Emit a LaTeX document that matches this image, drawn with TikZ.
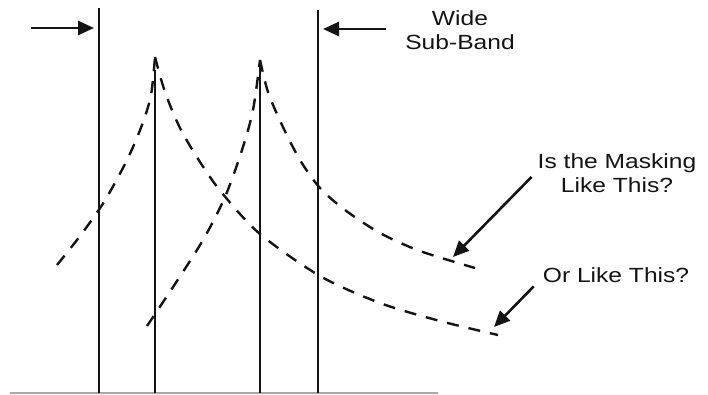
\documentclass[tikz,border=0pt]{standalone}
\usepackage{fontspec}
\usepackage{tikz}
\usetikzlibrary{arrows.meta,positioning}
\newfontfamily\lblfont[FakeStretch=1.2]{Liberation Sans}
\definecolor{Ink}{HTML}{141414}
\definecolor{Rule}{HTML}{A8A8A8}

\begin{document}
\begin{tikzpicture}[x=1pt,y=-1pt,
  band/.style={line width=2.4pt,color=Ink},
  mask/.style={line width=2.4pt,color=Ink,dash pattern=on 12pt off 10pt},
  arr/.style={-{Triangle[length=16pt,width=14pt]},line width=2.6pt,color=Ink},
  lbl/.style={font=\lblfont\fontsize{20.5}{23.4}\selectfont,align=center,inner sep=2pt,color=Ink}]
\useasboundingbox (0,0) rectangle (708,394);
\draw[line width=2pt,color=Rule] (10,393) -- (438,393);
\foreach \name/\x/\top in {edgeL/99/8,toneA/155/70,toneB/260/66,edgeR/318/10} {
  \coordinate (\name) at (\x,\top);
  \draw[band] (\name) -- (\x,393);
}
\draw[mask] plot[smooth] coordinates {(57,265) (80,236) (104,202) (127,160) (142,125) (151,95) (155,57)};
\draw[mask] plot[smooth] coordinates {(155,57) (165,92) (180,128) (200,162) (222,193) (260,234) (320,276) (380,303) (440,321) (498,335)};
\draw[mask] plot[smooth] coordinates {(147,326) (175,284) (203,240) (225,197) (242,150) (253,110) (260,60)};
\draw[mask] plot[smooth] coordinates {(260,60) (268,92) (282,125) (300,160) (320,188) (345,210) (380,233) (420,251) (475,268)};
\node[lbl,anchor=base] (wide) at (460,49) {Wide\\Sub-Band};
\node[lbl,anchor=base] (lblmask) at (617,192) {Is the Masking\\Like This?};
\node[lbl,anchor=base] (lblor) at (616,282) {Or Like This?};
\coordinate (inL) at (31,28);
\coordinate (inR) at (386,29);
\coordinate (maskhit) at (453,257);
\coordinate (orhit) at (494,327);
\draw[arr,shorten >=5pt] (inL) -- (inL -| edgeL);
\draw[arr,shorten >=5pt] (inR) -- (inR -| edgeR);
\draw[arr] ([shift={(-4,4)}]lblmask.west) -- (maskhit);
\draw[arr] ([shift={(-7,2)}]lblor.south west) -- (orhit);
\end{tikzpicture}
\end{document}
